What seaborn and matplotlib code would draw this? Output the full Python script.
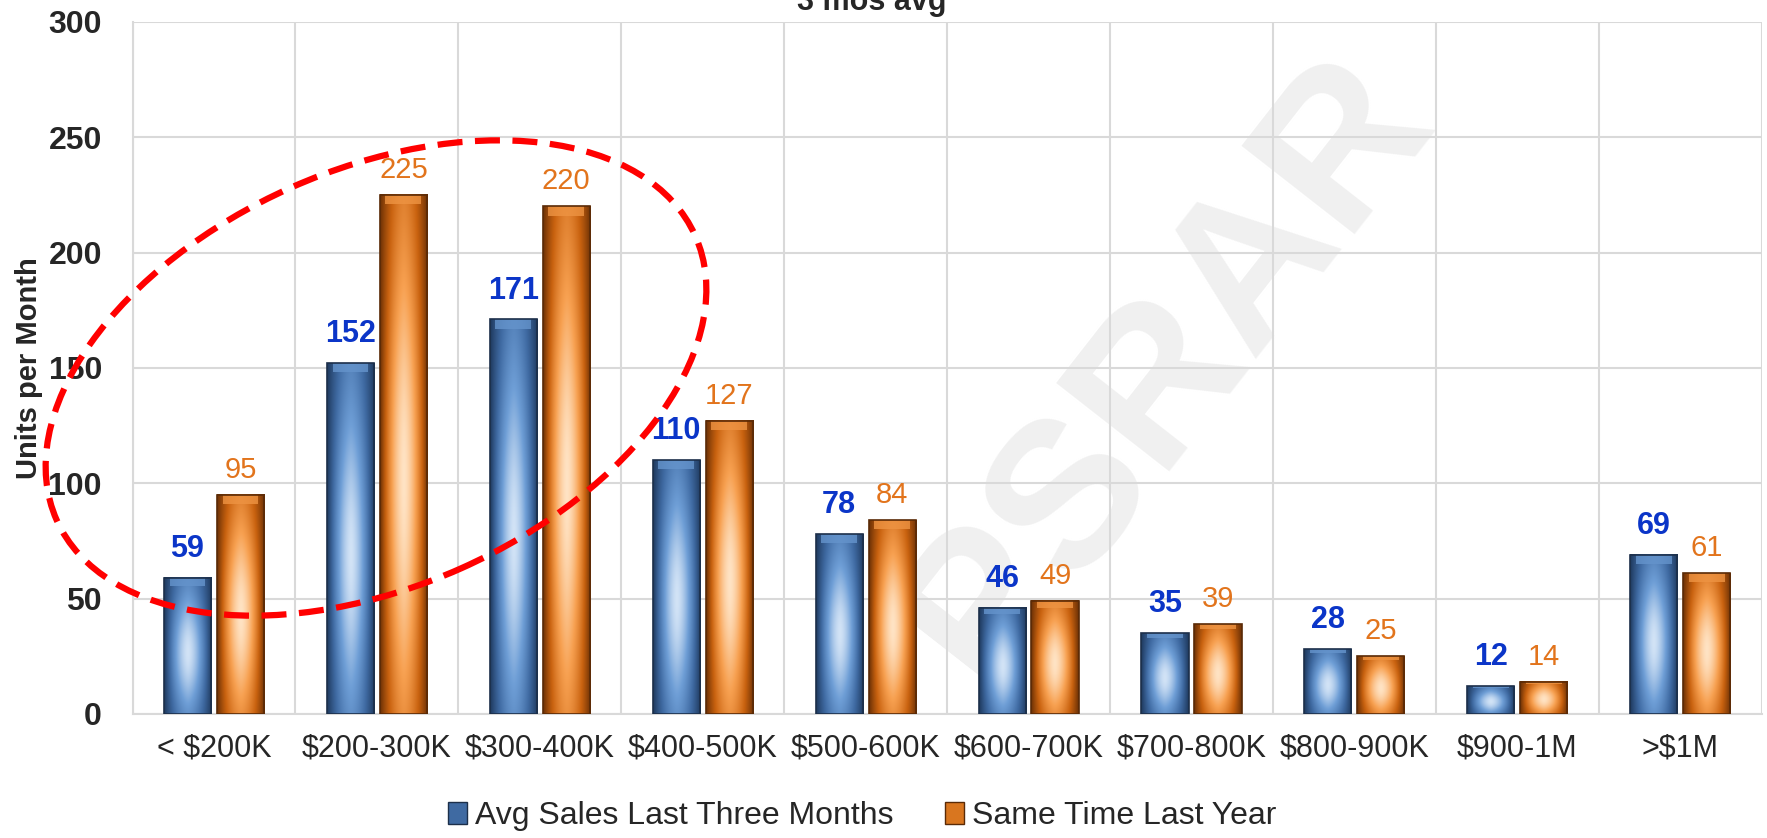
import numpy as np
import pandas as pd
import seaborn as sns
import matplotlib.pyplot as plt
from matplotlib.patches import Ellipse, Patch, Rectangle
from matplotlib.colors import LinearSegmentedColormap

# dados
faixas = ["< $200K", "$200-300K", "$300-400K", "$400-500K", "$500-600K",
          "$600-700K", "$700-800K", "$800-900K", "$900-1M", ">$1M"]
media_3m = [59, 152, 171, 110, 78, 46, 35, 28, 12, 69]
ano_passado = [95, 225, 220, 127, 84, 49, 39, 25, 14, 61]
series = ["Avg Sales Last Three Months", "Same Time Last Year"]

azul = "#4a78b0"
laranja = "#e0741f"
cmap_azul = LinearSegmentedColormap.from_list("az", ["#1f3a5f", "#3f6aa2", "#6e9ed6", "#d2e3f6"])
cmap_lar = LinearSegmentedColormap.from_list("la", ["#6e3206", "#c9620f", "#f7a050", "#ffe3c4"])

df = pd.DataFrame({
    "Faixa": faixas * 2,
    "Serie": [series[0]] * len(faixas) + [series[1]] * len(faixas),
    "Unidades": media_3m + ano_passado,
})

sns.set_style("white")
plt.rcParams["font.family"] = ["Liberation Sans", "DejaVu Sans"]

fig = plt.figure(figsize=(17.67, 8.38), dpi=100)
ax = fig.add_axes([0.075, 0.148, 0.922, 0.826])
ax.set_facecolor("none")

# marca d'agua (atras das barras)
ax.text(0.66, 0.56, "PSRAR", transform=fig.transFigure, fontsize=150, fontweight="bold",
        color="#f0f0f0", rotation=52, ha="center", va="center", zorder=0.5, clip_on=False)

sns.barplot(data=df, x="Faixa", y="Unidades", hue="Serie", palette=[azul, laranja],
            width=0.65, gap=0.11, legend=False, ax=ax, zorder=3)

# efeito de gradiente/bevel nas barras
u = np.linspace(0, 1, 60)
v = np.linspace(0, 1, 120)
U, V = np.meshgrid(u, v)
horiz = 1 - np.abs(2 * U - 1) ** 1.6
vert = np.exp(-((V - 0.45) / 0.45) ** 2)
grad = horiz * (0.35 + 0.65 * vert)

for cont, cm, borda in zip(ax.containers, [cmap_azul, cmap_lar], ["#1c2f4a", "#5a2a06"]):
    for p in cont.patches:
        x0, w, h = p.get_x(), p.get_width(), p.get_height()
        ax.imshow(grad, extent=[x0, x0 + w, 0, h], origin="lower", aspect="auto",
                  cmap=cm, vmin=0, vmax=1, zorder=3.5, interpolation="bicubic")
        topo = min(h * 0.06, 4)
        ax.add_patch(Rectangle((x0 + w * 0.12, h - topo), w * 0.76, topo,
                               facecolor=cm(0.6), edgecolor="none", alpha=0.8, zorder=3.6))
        p.set_facecolor("none")
        p.set_edgecolor(borda)
        p.set_linewidth(1.2)
        p.set_zorder(3.8)

ax.bar_label(ax.containers[0], labels=[str(v) for v in media_3m], padding=10,
             fontsize=22, fontweight="bold", color="#0b35c8", zorder=5)
ax.bar_label(ax.containers[1], labels=[str(v) for v in ano_passado], padding=8,
             fontsize=21, color="#e2741c", zorder=5)

ax.set_xlim(-0.5, len(faixas) - 0.5)
ax.set_ylim(0, 300)
ax.set_yticks(range(0, 301, 50))
ax.set_xticks(np.arange(-0.5, len(faixas), 1), minor=True)
ax.grid(axis="y", which="major", color="#d9d9d9", linewidth=1.5, zorder=0)
ax.grid(axis="x", which="minor", color="#d9d9d9", linewidth=1.5, zorder=0)
ax.grid(axis="x", which="major", visible=False)
ax.tick_params(axis="both", which="both", length=0)
ax.tick_params(axis="x", labelsize=22, pad=14)
ax.tick_params(axis="y", labelsize=23, pad=22)
for t in ax.get_yticklabels():
    t.set_fontweight("bold")
for s in ["top", "right"]:
    ax.spines[s].set_visible(False)
for s in ["left", "bottom"]:
    ax.spines[s].set_color("#d9d9d9")
    ax.spines[s].set_linewidth(1.5)

ax.set_xlabel("")
ax.set_ylabel("Units per Month", fontsize=21, fontweight="bold")
ax.yaxis.set_label_coords(-0.055, 0.5)

fig.text(0.4935, 1 - 10 / 838, "3 mos avg", fontsize=22, fontweight="bold",
         ha="center", va="baseline")

handles = [Patch(facecolor="#3f6aa2", edgecolor="#1c2f4a"),
           Patch(facecolor="#d9761f", edgecolor="#5a2a06")]
fig.legend(handles, series, loc="center", bbox_to_anchor=(0.488, 0.026), ncol=2,
           frameon=False, fontsize=23, handlelength=0.6, handleheight=0.7,
           handletextpad=0.25, columnspacing=1.6)

# elipse vermelha tracejada
elipse = Ellipse((3.76, 4.60), width=6.99, height=4.17, angle=24,
                 transform=fig.dpi_scale_trans, fill=False, edgecolor="#ff0000",
                 linewidth=4.5, linestyle=(0, (4, 2)), zorder=10)
fig.add_artist(elipse)

fig.savefig("out.png", dpi=100)
